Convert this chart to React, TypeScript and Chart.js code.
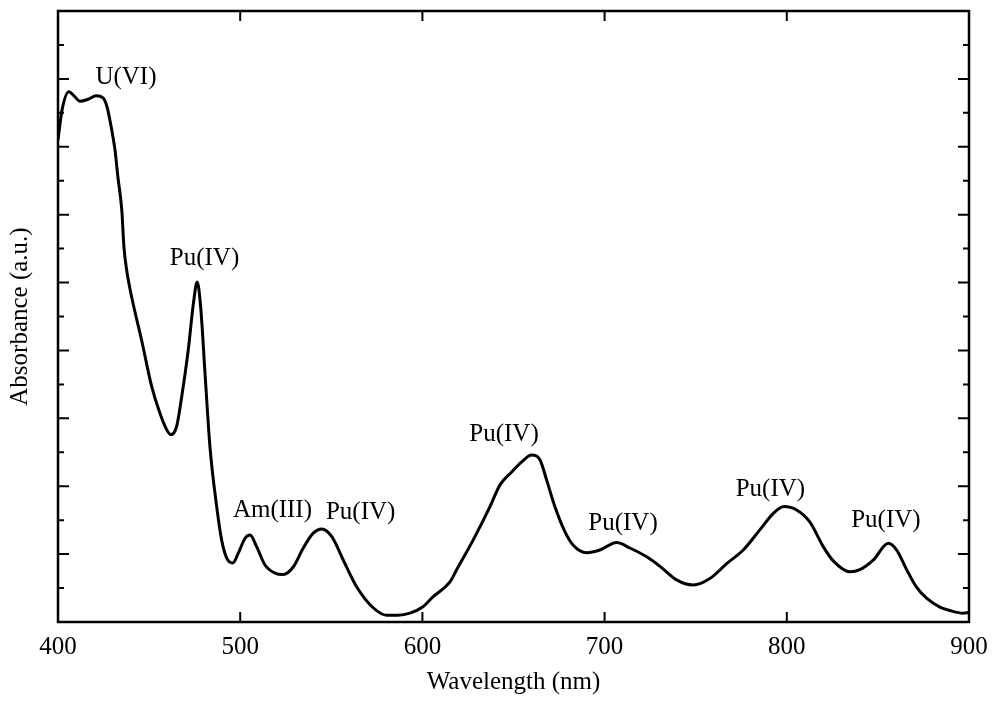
import { useEffect, useRef } from "react";
import { Chart, registerables } from "chart.js";

Chart.register(...registerables);

// Absorption spectrum of the mixed actinide solution
const wavelengthNm = [
  400, 402.2, 406.0, 408.8, 412.1, 416.5, 420.9, 424.7, 426.9, 428.5,
  430.2, 431.3, 432.9, 435.0, 436.2, 437.7, 440.4, 445.9, 451.4, 456.0,
  459.7, 462.0, 465.1, 467.9, 471.5, 474.3, 476.4, 478.3, 480.7, 483.4,
  487.1, 489.8, 492.6, 495.9, 498.9, 502.6, 505.4, 509.0, 513.6, 519.1,
  523.6, 529.1, 534.6, 540.1, 544.7, 550.2, 556.6, 563.9, 573.0, 580.4,
  586.6, 593.2, 600.1, 605.8, 615.1, 618.8, 627.9, 637.1, 642.6, 649.0,
  654.5, 660.0, 664.5, 668.2, 672.7, 678.2, 682.8, 690.1, 697.4, 706.6,
  713.9, 723.1, 730.4, 739.5, 748.6, 757.8, 767.0, 776.1, 785.3, 792.6,
  798.4, 805.4, 812.7, 820.0, 825.5, 834.6, 840.1, 847.4, 855.7, 860.3,
  865.8, 871.0, 876.7, 884.0, 889.5, 896.8, 900,
];

const absorbance = [
  7.10, 7.54, 7.81, 7.75, 7.67, 7.70, 7.75, 7.72, 7.59, 7.39,
  7.14, 6.95, 6.55, 6.07, 5.52, 5.18, 4.79, 4.15, 3.47, 3.07,
  2.83, 2.76, 2.88, 3.32, 4.01, 4.69, 5.01, 4.64, 3.66, 2.58,
  1.70, 1.21, 0.94, 0.87, 1.01, 1.23, 1.28, 1.11, 0.84, 0.72,
  0.70, 0.81, 1.09, 1.31, 1.37, 1.26, 0.91, 0.52, 0.21, 0.10,
  0.10, 0.13, 0.22, 0.37, 0.59, 0.77, 1.21, 1.70, 2.02, 2.21,
  2.36, 2.46, 2.39, 2.09, 1.70, 1.33, 1.13, 1.02, 1.06, 1.17,
  1.09, 0.96, 0.82, 0.62, 0.545, 0.64, 0.86, 1.06, 1.36, 1.60,
  1.70, 1.65, 1.47, 1.11, 0.90, 0.74, 0.77, 0.91, 1.16, 1.06,
  0.77, 0.52, 0.35, 0.22, 0.17, 0.13, 0.14,
];

// Band assignments, placed in data coordinates (nm, a.u.)
const peakLabels = ["U(VI)", "Pu(IV)", "Am(III)", "Pu(IV)", "Pu(IV)", "Pu(IV)", "Pu(IV)", "Pu(IV)"];
const peakLabelNm = [437.3, 480.4, 517.7, 566.1, 644.8, 710.1, 791.0, 854.4];
const peakLabelAbs = [8.02, 5.35, 1.64, 1.62, 2.77, 1.455, 1.96, 1.5];

const xMin = 400;
const xMax = 900;
const xStep = 100;
const yMin = 0;
const yMax = 9;
const yStep = 0.5;

const SERIF = "'Liberation Serif', 'Times New Roman', serif";
const FONT_SIZE = 25;

const frameAndTicks = {
  id: "frameAndTicks",
  afterDraw(chart: any) {
    const { ctx, chartArea, scales } = chart;
    const { left, right, top, bottom } = chartArea;
    ctx.save();
    ctx.strokeStyle = "#000";
    ctx.lineWidth = 2;
    ctx.beginPath();
    for (const t of scales.x.ticks) {
      const px = scales.x.getPixelForValue(t.value);
      if (px <= left + 1 || px >= right - 1) continue;
      ctx.moveTo(px, bottom);
      ctx.lineTo(px, bottom - 10);
      ctx.moveTo(px, top);
      ctx.lineTo(px, top + 10);
    }
    for (const t of scales.y.ticks) {
      const py = scales.y.getPixelForValue(t.value);
      if (py <= top + 1 || py >= bottom - 1) continue;
      const len = Number.isInteger(t.value) ? 11 : 6;
      ctx.moveTo(left, py);
      ctx.lineTo(left + len, py);
      ctx.moveTo(right, py);
      ctx.lineTo(right - len, py);
    }
    ctx.stroke();
    ctx.lineWidth = 2.5;
    ctx.strokeRect(left, top, right - left, bottom - top);
    ctx.restore();
  },
};

const bandLabels = {
  id: "bandLabels",
  afterDatasetsDraw(chart: any) {
    const { ctx, scales } = chart;
    ctx.save();
    ctx.fillStyle = "#000";
    ctx.font = `${FONT_SIZE}px ${SERIF}`;
    ctx.textAlign = "center";
    ctx.textBaseline = "middle";
    peakLabels.forEach((text, i) => {
      const px = scales.x.getPixelForValue(peakLabelNm[i]);
      const py = scales.y.getPixelForValue(peakLabelAbs[i]);
      ctx.fillText(text, px, py);
    });
    ctx.restore();
  },
};

export default function App() {
  const canvasRef = useRef<HTMLCanvasElement | null>(null);

  useEffect(() => {
    const canvas = canvasRef.current;
    if (!canvas) return;
    const points = wavelengthNm.map((x, i) => ({ x, y: absorbance[i] }));
    const chart = new Chart(canvas, {
      type: "line",
      data: {
        datasets: [
          {
            data: points,
            borderColor: "#000",
            borderWidth: 3,
            pointRadius: 0,
            fill: false,
            cubicInterpolationMode: "monotone",
          },
        ],
      },
      options: {
        responsive: false,
        animation: false,
        devicePixelRatio: 1,
        layout: { padding: { top: 11, right: 25, left: 0, bottom: 0 } },
        plugins: {
          legend: { display: false },
          tooltip: { enabled: false },
        },
        scales: {
          x: {
            type: "linear",
            position: "bottom",
            min: xMin,
            max: xMax,
            afterFit: (s: any) => {
              s.height = 80;
              s.paddingLeft = 0;
              s.paddingRight = 0;
            },
            grid: { display: false, drawTicks: false },
            border: { display: false },
            ticks: {
              stepSize: xStep,
              autoSkip: false,
              maxRotation: 0,
              padding: 10,
              color: "#000",
              font: { family: SERIF, size: FONT_SIZE },
              callback: (v: any) => String(v),
            },
            title: {
              display: true,
              text: "Wavelength (nm)",
              color: "#000",
              font: { family: SERIF, size: FONT_SIZE },
              padding: { top: 0, bottom: 5 },
            },
          },
          y: {
            type: "linear",
            min: yMin,
            max: yMax,
            afterFit: (s: any) => {
              s.width = 58;
            },
            grid: { display: false, drawTicks: false },
            border: { display: false },
            ticks: { display: false, stepSize: yStep },
            title: {
              display: true,
              text: "Absorbance (a.u.)",
              color: "#000",
              font: { family: SERIF, size: FONT_SIZE },
              padding: { top: 5, bottom: 0 },
            },
          },
        },
      },
      plugins: [frameAndTicks, bandLabels],
    });
    return () => chart.destroy();
  }, []);

  return (
    <div style={{ position: "fixed", left: 0, top: 0, width: 994, height: 702, background: "#fff" }}>
      <canvas ref={canvasRef} width={994} height={702} style={{ display: "block" }} />
    </div>
  );
}
